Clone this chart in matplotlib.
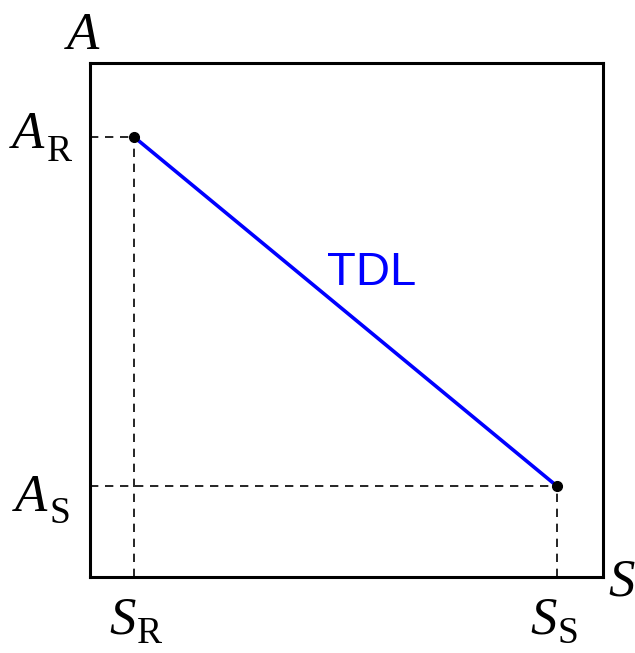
import matplotlib.pyplot as plt

# Limites dos eixos e pontos da linha TDL
S_max = 10.0
A_max = 10.0
S_R, A_R = 0.86, 8.56   # ponto R
S_S, A_S = 9.10, 1.77   # ponto S
S_pts = [S_R, S_S]
A_pts = [A_R, A_S]

fig = plt.figure(figsize=(6.35, 6.53), dpi=100)
ax = fig.add_axes([90/635, 76/653, 513/635, 514/653])
ax.set_xlim(0, S_max)
ax.set_ylim(0, A_max)
ax.set_xticks([])
ax.set_yticks([])
for sp in ax.spines.values():
    sp.set_linewidth(2.2)

# linhas tracejadas até os eixos
dash = dict(color='black', lw=1.2, ls=(0, (5, 4)))
for s, a in zip(S_pts, A_pts):
    ax.plot([0, s], [a, a], **dash)
    ax.plot([s, s], [0, a], **dash)

ax.plot(S_pts, A_pts, color='#0000ff', lw=2.6, solid_capstyle='butt')
ax.plot(S_pts, A_pts, 'o', color='black', ms=7, zorder=5)

ax.text(372/635, (653-285)/653, 'TDL', transform=fig.transFigure, color='#0000ff',
        fontsize=34, family='Liberation Sans', ha='center', va='baseline')

px = 0.72  # pixels -> pontos


def rotulo(xy, letra, sub, dx, dy, sdx, sdy, ha='right'):
    # letra em itálico + subscrito em romano, deslocamentos em pixels
    ax.annotate(letra, xy, xytext=(dx*px, dy*px), textcoords='offset points',
                ha=ha, va='baseline', fontsize=38, family='Liberation Serif',
                style='italic', annotation_clip=False)
    if sub:
        ax.annotate(sub, xy, xytext=(sdx*px, sdy*px), textcoords='offset points',
                    ha='left', va='baseline', fontsize=27, family='Liberation Serif',
                    annotation_clip=False)


rotulo((0, A_R), 'A', 'R', -46, -11, -43, -24)
rotulo((0, A_S), 'A', 'S', -43, -25, -41, -37)
rotulo((S_R, 0), 'S', 'R', 2, -56, 3, -66)
rotulo((S_S, 0), 'S', 'S', 0, -56, 1, -66)
rotulo((0, A_max), 'A', '', -7, 14, 0, 0, ha='center')
rotulo((S_max, 0), 'S', '', 5, -18, 0, 0, ha='left')

fig.savefig('out.png', dpi=100)
